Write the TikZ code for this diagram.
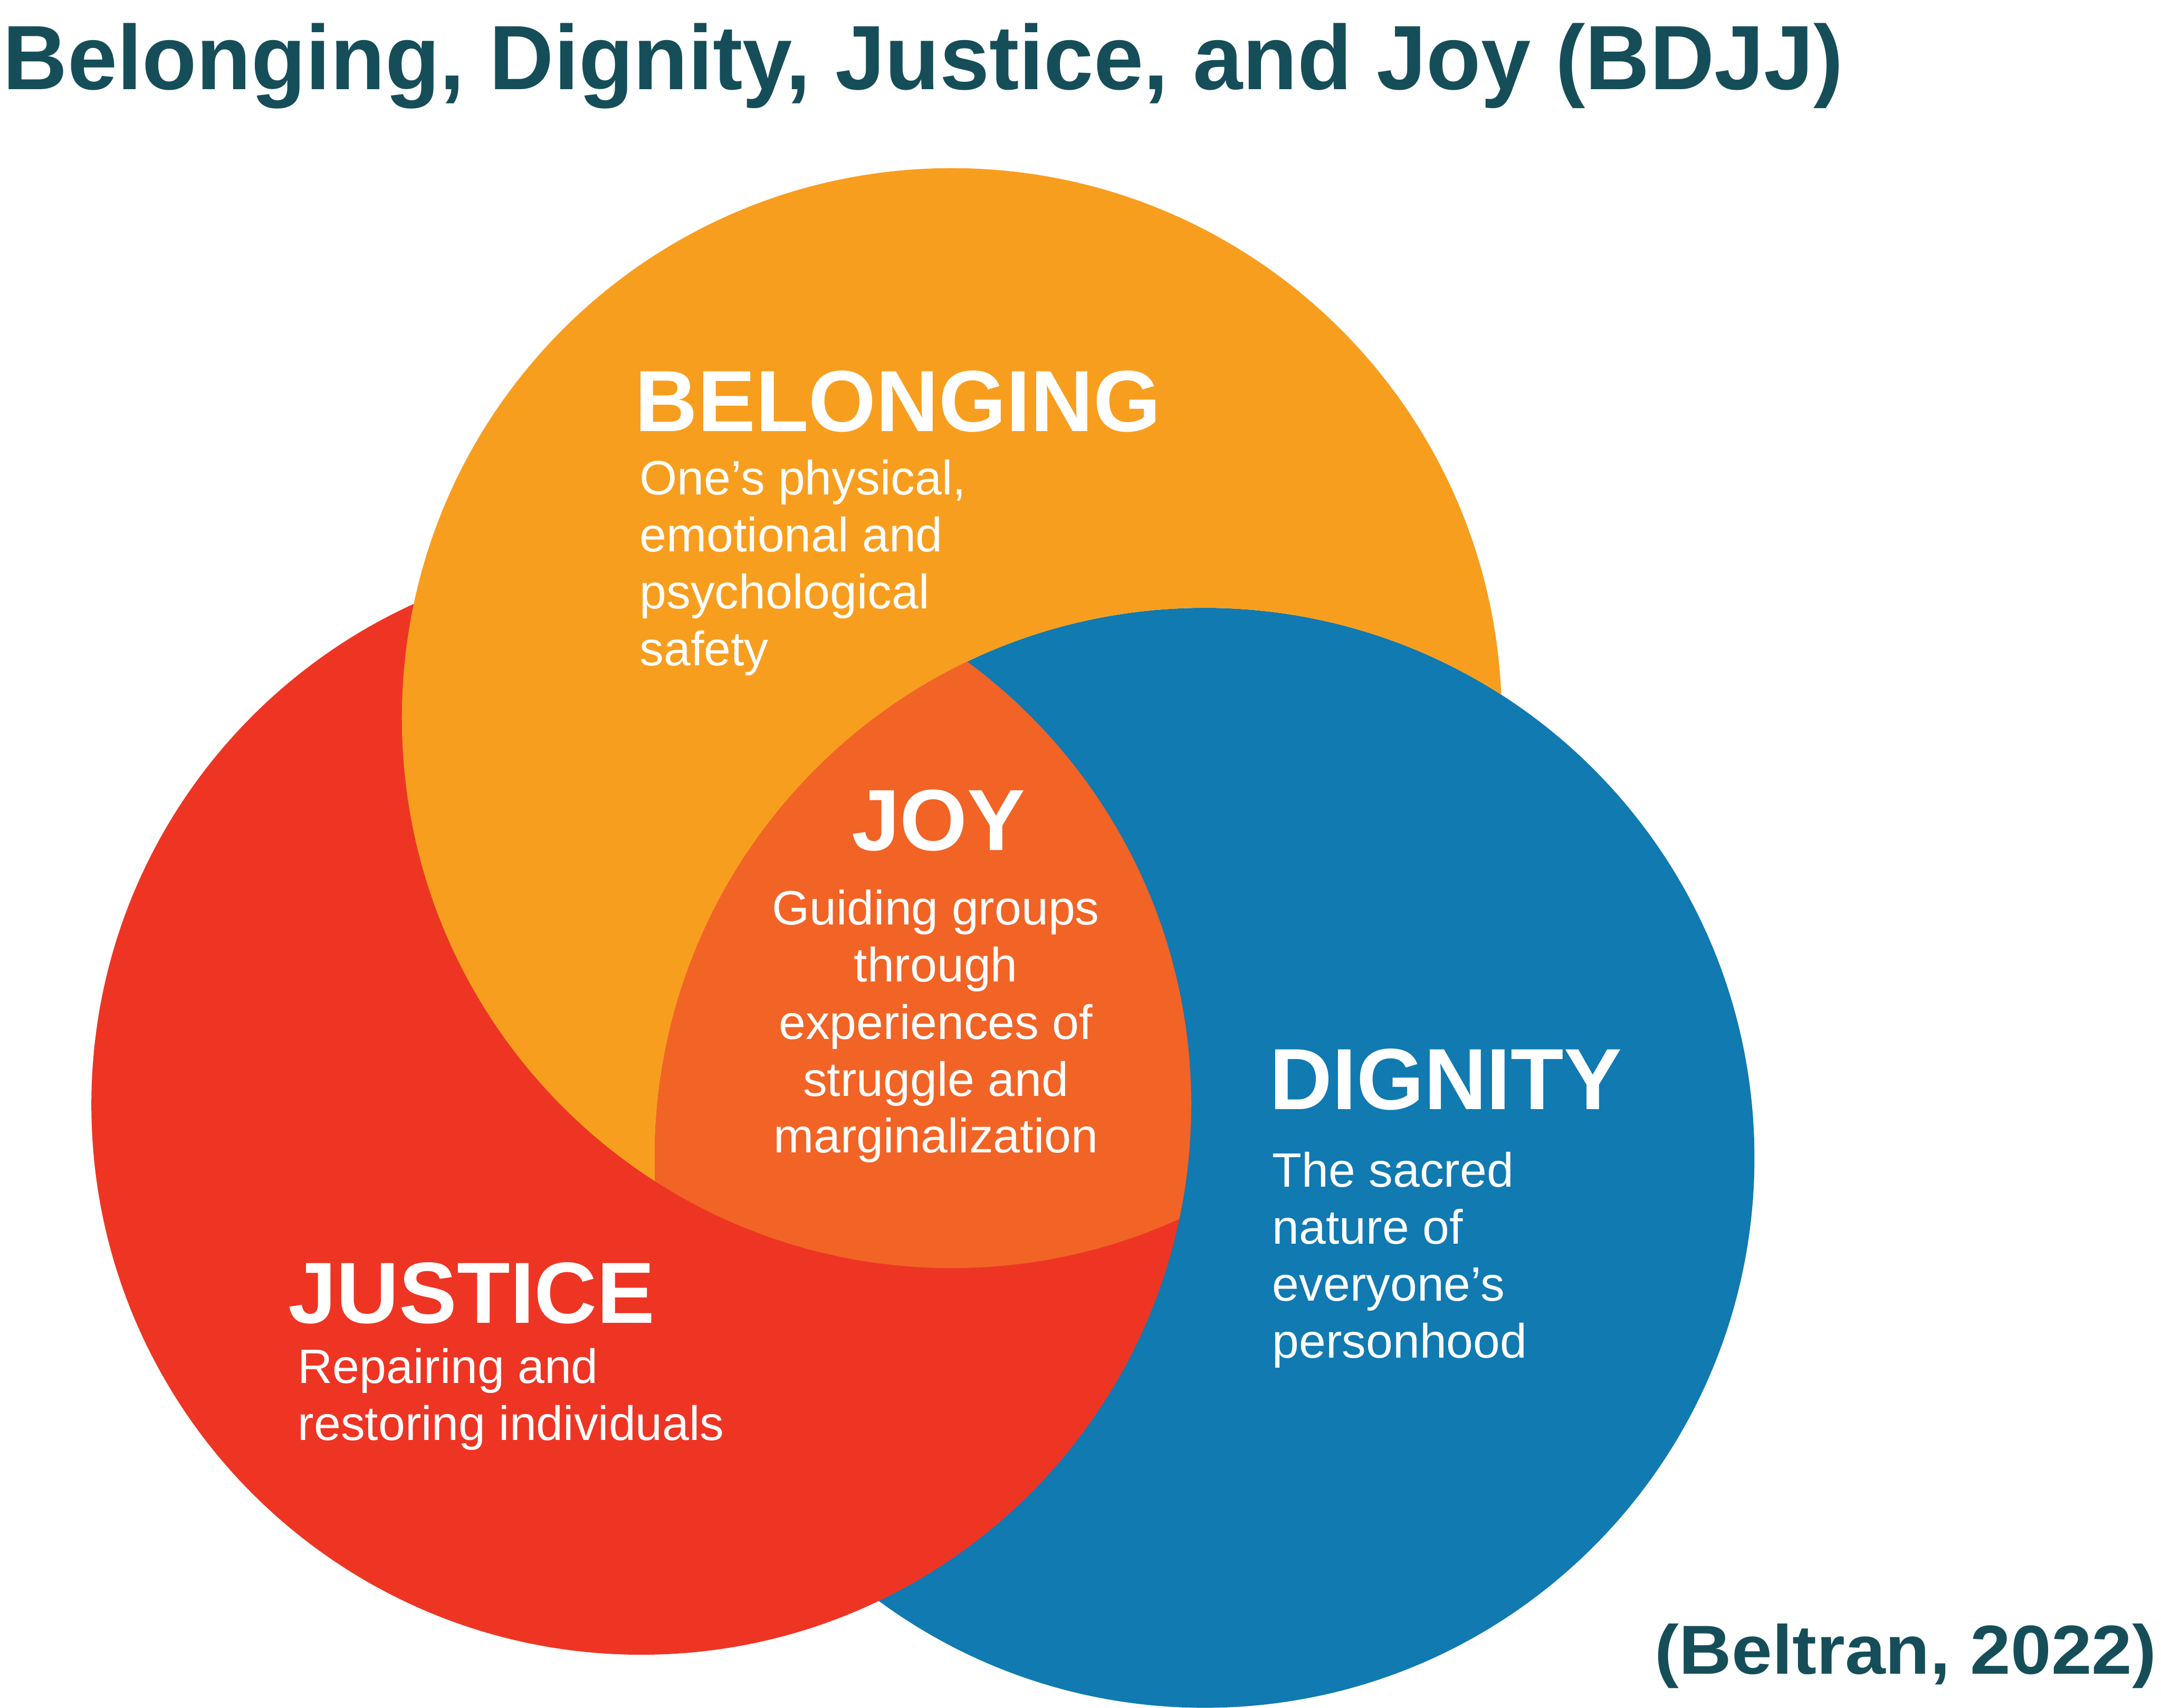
\documentclass[tikz,border=0pt]{standalone}
\usepackage{graphicx}
\usepackage{fontspec}
\setmainfont{Liberation Sans}
\definecolor{corange}{HTML}{F89E1F}
\definecolor{cred}{HTML}{EE3524}
\definecolor{cblue}{HTML}{107AB1}
\definecolor{cjoy}{HTML}{F16426}
\definecolor{cteal}{HTML}{154E59}
\begin{document}
\begin{tikzpicture}[x=1pt,y=-1pt,
  head/.style={inner sep=0pt,text=white,font=\fontsize{63}{63}\selectfont\bfseries,anchor=base west},
  body/.style={inner sep=0pt,text=white,font=\fontsize{35}{35}\selectfont,anchor=base west},
  jbody/.style={body,anchor=base},
  ttl/.style={inner sep=0pt,text=cteal,font=\bfseries}]
\useasboundingbox (0,0) rectangle (1568,1239);
\fill[white] (0,0) rectangle (1568,1239);
% circles
\coordinate (cO) at (690.6,521);
\coordinate (cR) at (465.3,801.5);
\coordinate (cB) at (874,840);
\fill[cblue] (cB) circle (399pt);
\fill[cred] (cR) circle (399pt);
\begin{scope}[even odd rule]
  \clip (-100,-100) rectangle (1700,1400) (cB) circle (399pt);
  \fill[corange] (cO) circle (399pt);
\end{scope}
\begin{scope}
  \clip (cO) circle (399pt);
  \clip (cR) circle (399pt);
  \fill[cjoy] (cB) circle (399pt);
\end{scope}
% title
\node[ttl,anchor=base west] (title) at (2,65) {\scalebox{0.978}[1]{\fontsize{66.3}{66}\selectfont Belonging, Dignity, Justice, and Joy (BDJJ)}};
\node[ttl,anchor=base east] (cite) at (1565,1214.5) {\scalebox{1.05}[1]{\fontsize{50.3}{50}\selectfont (Beltran, 2022)}};
% belonging
\node[head] (belh) at (460.5,313) {BELONGING};
\node[body] (bel1) at (464,359) {One’s physical,};
\node[body] (bel2) at (464,400.2) {emotional and};
\node[body] (bel3) at (464,441.6) {psychological};
\node[body] (bel4) at (464,483) {safety};
% joy
\node[head,anchor=base] (joyh) at (681,616.8) {JOY};
\node[jbody] (joy1) at (679,670.8) {Guiding groups};
\node[jbody] (joy2) at (679,712.3) {through};
\node[jbody] (joy3) at (679,753.8) {experiences of};
\node[jbody] (joy4) at (679,795.3) {struggle and};
\node[jbody] (joy5) at (679,836.3) {marginalization};
% dignity
\node[head] (digh) at (921,805) {DIGNITY};
\node[body] (dig1) at (923,861) {The sacred};
\node[body] (dig2) at (923,902.3) {nature of};
\node[body] (dig3) at (923,943.9) {everyone’s};
\node[body] (dig4) at (923,985) {personhood};
% justice
\node[head] (jush) at (209,959.8) {JUSTICE};
\node[body] (jus1) at (216,1003.5) {Repairing and};
\node[body] (jus2) at (216,1044.7) {restoring individuals};
\end{tikzpicture}
\end{document}
